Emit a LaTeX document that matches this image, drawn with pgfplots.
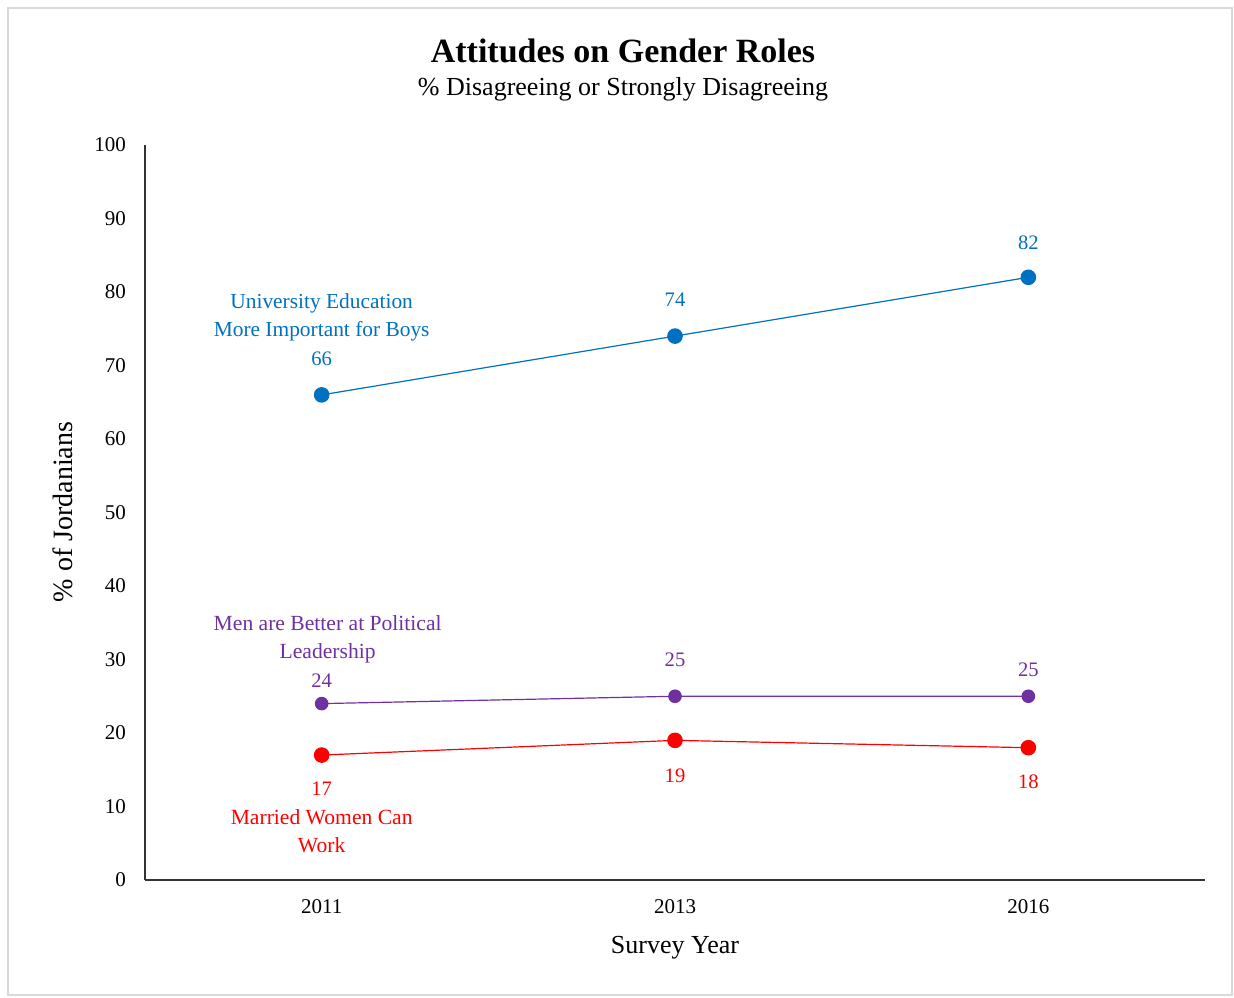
\documentclass[border=0pt]{standalone}
\usepackage{pgfplots}
\pgfplotsset{compat=1.18}
\usepackage{fontspec}
\setmainfont{Liberation Serif}
\definecolor{cblue}{HTML}{0070C0}
\definecolor{cpurple}{HTML}{7030A0}
\definecolor{cred}{HTML}{FF0000}
\definecolor{cframe}{HTML}{D9D9D9}
\begin{document}
\begin{tikzpicture}
\begin{axis}[
  name=ax,
  scale only axis,
  width=530pt, height=367.5pt,
  xmin=-0.5, xmax=2.5, ymin=0, ymax=100,
  axis x line=bottom, axis y line=left,
  axis line style={-, line width=0.75pt, black!80},
  xtick={0,1,2}, xticklabels={2011,2013,2016},
  ytick={0,10,...,100},
  major tick length=0pt,
  /pgf/number format/assume math mode=true,
  tick label style={font=\fontsize{10.5}{12}\selectfont},
  xticklabel style={yshift=-6pt},
  yticklabel style={xshift=-6pt},
  clip=false,
  nodes near coords,
  point meta=explicit symbolic,
  visualization depends on={\thisrow{dy} \as \dy},
  every node near coord/.append style={anchor=center, yshift=\dy pt, font=\fontsize{10.3}{12}\selectfont},
]
\addplot[color=cblue, line width=0.6pt, mark=*, mark size=3.6pt, every node near coord/.append style={text=cblue}]
  table[x=x, y=y, meta=lab] {
x y lab dy
0 66 66 18
1 74 74 18
2 82 82 17.5
};
\addplot[color=cpurple, line width=0.6pt, mark=*, mark size=3.1pt, every node near coord/.append style={text=cpurple}]
  table[x=x, y=y, meta=lab] {
x y lab dy
0 24 24 11.5
1 25 25 18
2 25 25 13
};
\addplot[color=cred, line width=0.6pt, mark=*, mark size=3.6pt, every node near coord/.append style={text=cred}]
  table[x=x, y=y, meta=lab] {
x y lab dy
0 17 17 -17
1 19 19 -17.5
2 18 18 -17
};
\node[align=center, text=cblue, font=\fontsize{10.7}{14}\selectfont] at (axis cs:0,76.5) {University Education\\More Important for Boys};
\node[align=center, text=cpurple, font=\fontsize{10.8}{14}\selectfont] at (axis cs:0.017,32.8) {Men are Better at Political\\Leadership};
\node[align=center, text=cred, font=\fontsize{10.8}{14}\selectfont] at (axis cs:0,6.7) {Married Women Can\\Work};
\end{axis}
\begin{scope}[shift={([xshift=-72.5pt,yshift=440pt]ax.south west)}, x=0.5pt, y=-0.5pt]
  \path (0,0) rectangle (1234,997);
  \draw[cframe, line width=0.75pt] (8,8) rectangle (1232,995);
  \node[font=\fontsize{17}{19}\selectfont\bfseries] at (623,51) {Attitudes on Gender Roles};
  \node[font=\fontsize{13}{15}\selectfont] at (623,89) {\% Disagreeing or Strongly Disagreeing};
  \node[font=\fontsize{13}{15}\selectfont] at (675,948) {Survey Year};
  \node[font=\fontsize{14}{16}\selectfont, rotate=90] at (63,512) {\% of Jordanians};
\end{scope}
\end{tikzpicture}
\end{document}
